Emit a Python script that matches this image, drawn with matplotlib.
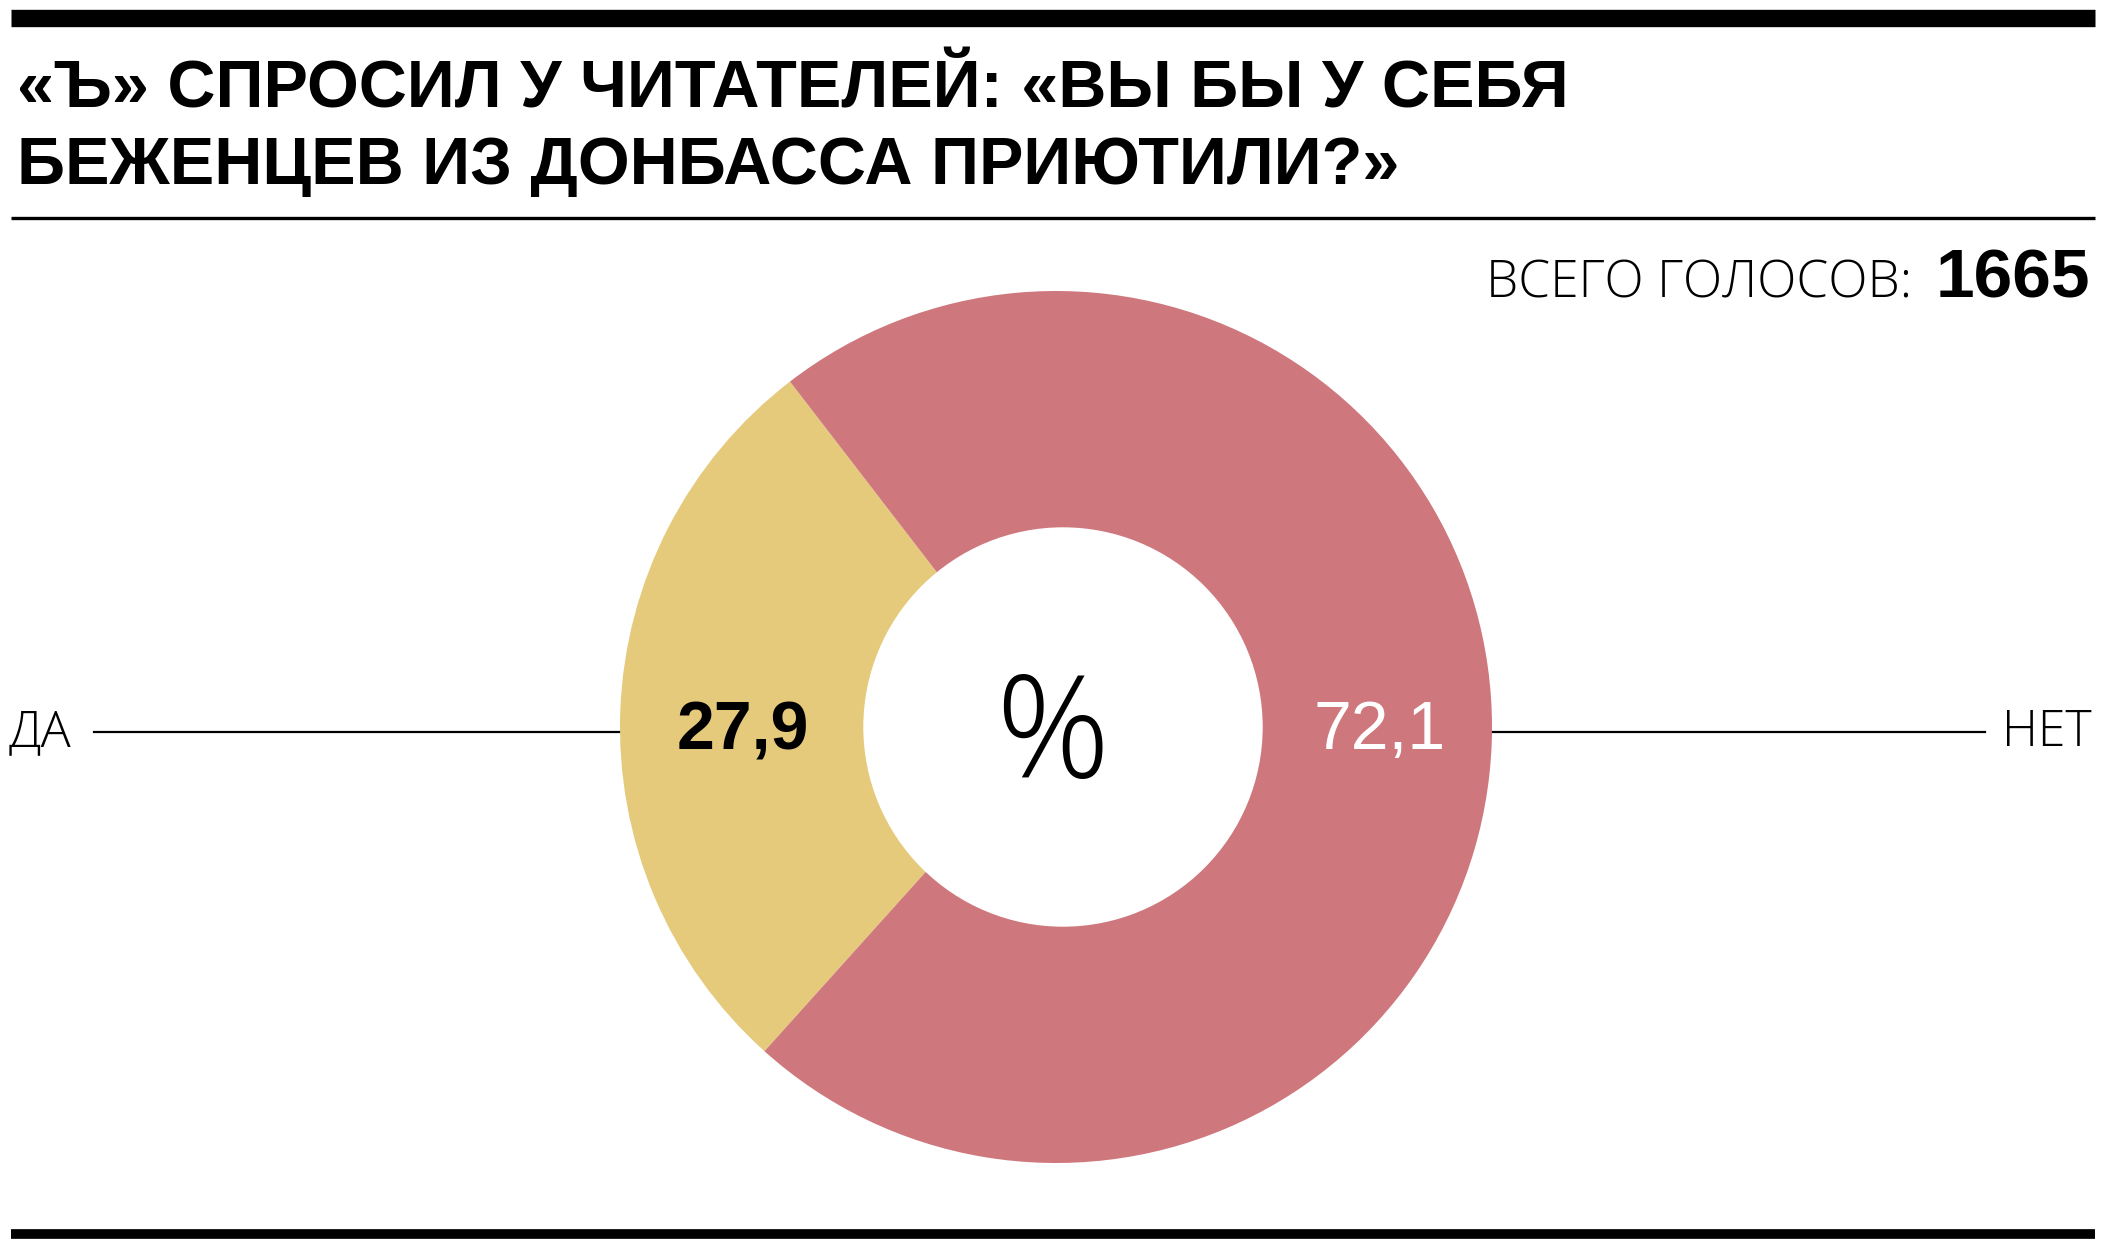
import matplotlib
matplotlib.use("Agg")
from matplotlib import pyplot as plt
from matplotlib import font_manager
from matplotlib.patches import Circle

# data
answers = ["ДА", "НЕТ"]
shares = [27.9, 72.1]
share_labels = ["27,9", "72,1"]
colors = ["#E5CA7B", "#CE777D"]
total_votes = 1665
title_lines = ["«Ъ» СПРОСИЛ У ЧИТАТЕЛЕЙ: «ВЫ БЫ У СЕБЯ",
               "БЕЖЕНЦЕВ ИЗ ДОНБАССА ПРИЮТИЛИ?»"]

W, H = 2106, 1250
names = {f.name for f in font_manager.fontManager.ttflist}
light = "Open Sans" if "Open Sans" in names else "DejaVu Sans"

fig = plt.figure(figsize=(W / 100, H / 100), dpi=100)
ax = fig.add_axes([0, 0, 1, 1])


def Y(y):
    # pixel row from top -> axes coordinate
    return H - y


# donut
cx, cy, r = 1056, Y(727), 436
wedges, _ = ax.pie(shares, colors=colors, startangle=127.6, counterclock=True,
                   radius=r, center=(cx, cy), frame=True)
ax.add_patch(Circle((1063, cy), 199, color="white", zorder=3))
ax.set_xlim(0, W)
ax.set_ylim(0, H)
ax.set_aspect("equal")
ax.axis("off")

# rules
ax.plot([11, 2095], [Y(18), Y(18)], color="black", lw=12.5, solid_capstyle="butt")
ax.plot([11, 2095], [Y(218), Y(218)], color="black", lw=2.4, solid_capstyle="butt")
ax.plot([11, 2095], [Y(1234), Y(1234)], color="black", lw=7, solid_capstyle="butt")

# title
for i, line in enumerate(title_lines):
    ax.text(17, Y(108 + i * 76), line, family="Liberation Sans", weight="bold",
            fontsize=48, ha="left", va="baseline", color="black")

# total votes
ax.text(2090, Y(298), str(total_votes), family="Liberation Sans", weight="bold",
        fontsize=50, ha="right", va="baseline")
ax.text(1912, Y(297), "ВСЕГО ГОЛОСОВ:", family=light, weight="light", fontsize=37,
        ha="right", va="baseline")

ax.text(1052, Y(777), "%", family=light, weight="light", fontsize=102,
        ha="center", va="baseline", zorder=4)
ax.text(743, Y(749), share_labels[0], family="Liberation Sans", weight="bold",
        fontsize=49, ha="center", va="baseline", color="black", zorder=4)
ax.text(1380, Y(749), share_labels[1], family="Liberation Sans", fontsize=49,
        ha="center", va="baseline", color="white", zorder=4)

# leader lines and answers
ax.plot([94, 619], [Y(732), Y(732)], color="black", lw=1.6, zorder=1)
ax.plot([1493, 1985], [Y(732), Y(732)], color="black", lw=1.6, zorder=1)
ax.text(9, Y(746), answers[0], family=light, weight="light", fontsize=36,
        ha="left", va="baseline")
ax.text(2092, Y(746), answers[1], family=light, weight="light", fontsize=36,
        ha="right", va="baseline")

fig.savefig("out.png", dpi=100, facecolor="white")
